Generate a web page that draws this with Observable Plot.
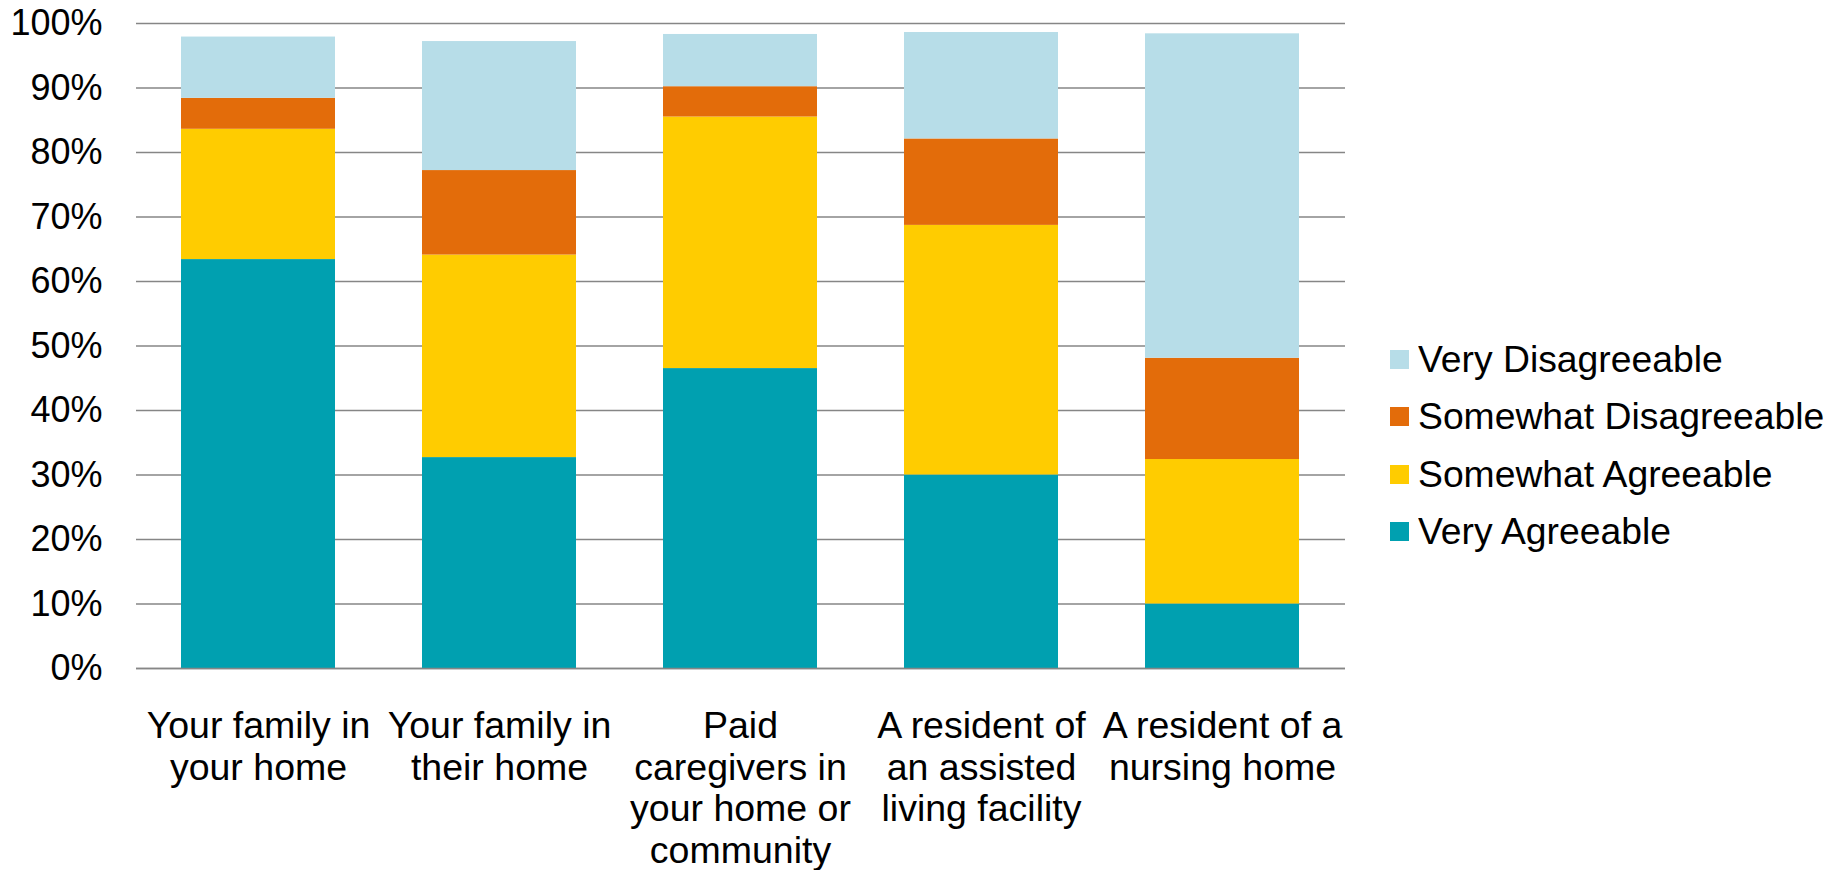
<!DOCTYPE html>
<html>
<head>
<meta charset="utf-8">
<script src="https://cdn.jsdelivr.net/npm/d3@7"></script>
<script src="https://cdn.jsdelivr.net/npm/@observablehq/plot@0.6"></script>
<style>
  html, body { margin: 0; padding: 0; background: #fff; }
  #wrap { position: relative; width: 1841px; height: 870px; font-family: "Liberation Sans", Arial, sans-serif; }
  #legend { position: absolute; left: 1390px; top: 331px; }
  .lg-swatches { font-family: "Liberation Sans", Arial, sans-serif !important; font-size: 37.3px !important; color: #000; margin: 0 !important; }
  .lg-swatch { height: 57.3px; padding-bottom: 0 !important; line-height: 57.3px; }
  .lg-swatch svg { margin-right: 9px !important; }
</style>
</head>
<body>
<div id="wrap"></div>
<script>
const categories = [
  "Your family in your home",
  "Your family in their home",
  "Paid caregivers in your home or community",
  "A resident of an assisted living facility",
  "A resident of a nursing home"
];
const categoryLabels = [
  "Your family in\nyour home",
  "Your family in\ntheir home",
  "Paid\ncaregivers in\nyour home or\ncommunity",
  "A resident of\nan assisted\nliving facility",
  "A resident of a\nnursing home"
];
const seriesNames = ["Very Agreeable", "Somewhat Agreeable", "Somewhat Disagreeable", "Very Disagreeable"];
const seriesColors = ["#00A0B0", "#FFCC00", "#E36C0A", "#B7DDE8"];
const veryAgreeable        = [63.4, 32.7, 46.5, 30.0, 10.0];
const somewhatAgreeable    = [20.2, 31.4, 39.0, 38.7, 22.4];
const somewhatDisagreeable = [4.8, 13.1, 4.7, 13.4, 15.7];
const veryDisagreeable     = [9.5, 20.0, 8.1, 16.5, 50.3];
const yTicks = [0, 10, 20, 30, 40, 50, 60, 70, 80, 90, 100];

const seriesValues = [veryAgreeable, somewhatAgreeable, somewhatDisagreeable, veryDisagreeable];
const data = [];
seriesNames.forEach((s, si) => {
  categories.forEach((c, ci) => {
    data.push({category: c, series: s, value: seriesValues[si][ci]});
  });
});
const labelOf = new Map(categories.map((c, i) => [c, categoryLabels[i]]));

const font = "Liberation Sans, Arial, sans-serif";
const chart = Plot.plot({
  width: 1841,
  height: 870,
  marginLeft: 136,
  marginRight: 496,
  marginTop: 23,
  marginBottom: 202,
  style: {fontFamily: font, fontSize: "36px", color: "#000", background: "#fff"},
  x: {domain: categories, paddingInner: 0.36, paddingOuter: 0.18, label: null},
  y: {domain: [0, 100], label: null},
  color: {domain: seriesNames, range: seriesColors},
  marks: [
    Plot.ruleY(yTicks, {stroke: "#868686", strokeWidth: 1.5}),
    Plot.ruleX([0], {frameAnchor: "left", stroke: "#868686", strokeWidth: 1.5, y1: 0, y2: 100}),
    Plot.barY(data, Plot.stackY({order: seriesNames, x: "category", y: "value", fill: "series"})),
    Plot.ruleY([0], {stroke: "#868686", strokeWidth: 1.5}),
    Plot.axisY({ticks: yTicks, tickFormat: d => d + "%", tickSize: 0, tickPadding: 34, fontSize: 36, fill: "#000"}),
    Plot.axisX({tickFormat: d => labelOf.get(d), tickSize: 0, tickPadding: 40, fontSize: 37.5, lineHeight: 1.11, fill: "#000"})
  ]
});
document.getElementById("wrap").appendChild(chart);

const legend = Plot.legend({
  color: {domain: seriesNames.slice().reverse(), range: seriesColors.slice().reverse()},
  legend: "swatches",
  columns: 1,
  swatchSize: 19,
  className: "lg"
});
const lg = document.createElement("div");
lg.id = "legend";
lg.appendChild(legend);
document.getElementById("wrap").appendChild(lg);
</script>
</body>
</html>
